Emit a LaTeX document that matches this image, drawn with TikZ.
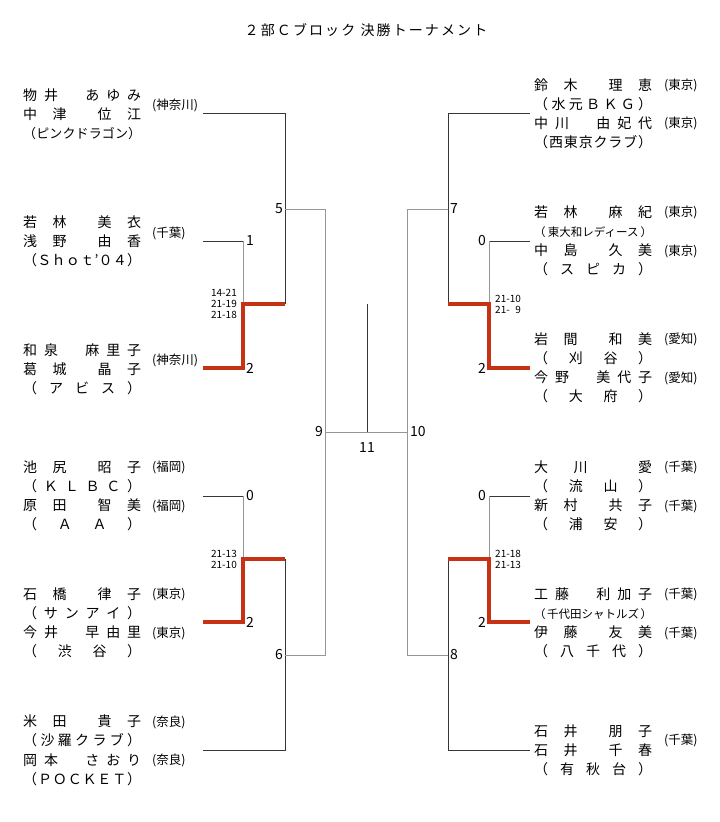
\documentclass[tikz,border=0pt]{standalone}
\usepackage{fontspec}
\setmainfont{Noto Sans CJK JP}
\newfontfamily\titlefont[LetterSpace=15]{Noto Sans CJK JP}
\usetikzlibrary{positioning}
\definecolor{WinRed}{RGB}{200,50,20}
\definecolor{LineDark}{RGB}{55,55,55}
\definecolor{LineGray}{RGB}{150,150,150}
% name lines: 2+2, 2+3 and 1+1+1 characters, club line
\newcommand{\nma}[4]{\makebox[118pt][s]{#1\hfil #2\hfil\hfil #3\hfil #4}}
\newcommand{\nmb}[5]{\makebox[118pt][s]{#1\hfil #2\hfil\hfil\hfil\hfil #3\hfil #4\hfil #5}}
\newcommand{\nmc}[3]{\makebox[118pt][s]{#1\hfil #2\hfil\hfil #3}}
\newcommand{\club}[1]{\makebox[118pt][s]{#1}}
\tikzset{
  entry/.style={anchor=base west,align=left,inner sep=0pt,font=\fontsize{14}{19.3}\selectfont},
  pref/.style={anchor=west,inner sep=0pt,font=\fontsize{12.5}{13}\selectfont},
  num/.style={inner sep=0pt,font=\fontsize{14}{14}\selectfont},
  score/.style={inner sep=0pt,font=\fontsize{10}{11}\selectfont},
  darkline/.style={draw=LineDark,line width=0.8pt},
  grayline/.style={draw=LineGray,line width=0.8pt},
  winline/.style={draw=WinRed,line width=3.2pt},
}
\begin{document}
\begin{tikzpicture}[x=1pt,y=-1pt]
\useasboundingbox (0,0) rectangle (720,822);
\node[inner sep=0pt,font=\titlefont\fontsize{14}{14}\selectfont] (title) at (366,30) {２部Ｃブロック 決勝トーナメント};

% left entries (placed at the baseline of their last line)
\node[entry] (L1) at (23,138.6) {\nmb{物}{井}{あ}{ゆ}{み}\\\nma{中}{津}{位}{江}\\
  \club{\fontsize{13}{13}\selectfont（\hfil ピ\hfil ン\hfil ク\hfil ド\hfil ラ\hfil ゴ\hfil ン\hfil ）}};
\node[entry] (L2) at (23,265.6) {\nma{若}{林}{美}{衣}\\\nma{浅}{野}{由}{香}\\
  \club{（\hfil Ｓ\hfil ｈ\hfil ｏ\hfil ｔ\hfil ’\hfil ０\hfil ４\hfil ）}};
\node[entry] (L3) at (23,393.6) {\nmb{和}{泉}{麻}{里}{子}\\\nma{葛}{城}{晶}{子}\\
  \club{（\hfil ア\hfil ビ\hfil ス\hfil ）}};
\node[entry] (L4) at (23,529.9) {\nma{池}{尻}{昭}{子}\\\club{（\hfil Ｋ\hfil Ｌ\hfil Ｂ\hfil Ｃ\hfil ）}\\
  \nma{原}{田}{智}{美}\\\club{（\hfil Ａ\hfil Ａ\hfil ）}};
\node[entry] (L5) at (23,656.9) {\nma{石}{橋}{律}{子}\\\club{（\hfil サ\hfil ン\hfil ア\hfil イ\hfil ）}\\
  \nmb{今}{井}{早}{由}{里}\\\club{（\hfil 渋\hfil 谷\hfil ）}};
\node[entry] (L6) at (23,784.4) {\nma{米}{田}{貴}{子}\\\club{（\hfil 沙\hfil 羅\hfil ク\hfil ラ\hfil ブ\hfil ）}\\
  \nmb{岡}{本}{さ}{お}{り}\\\club{（\hfil Ｐ\hfil Ｏ\hfil Ｃ\hfil Ｋ\hfil Ｅ\hfil Ｔ\hfil ）}};

% right entries
\node[entry] (R1) at (534,147.9) {\nma{鈴}{木}{理}{恵}\\\club{（\hfil 水\hfil 元\hfil Ｂ\hfil Ｋ\hfil Ｇ\hfil ）}\\
  \nmb{中}{川}{由}{妃}{代}\\\club{（\hfil 西\hfil 東\hfil 京\hfil ク\hfil ラ\hfil ブ\hfil ）}};
\node[entry] (R2) at (534,274.9) {\nma{若}{林}{麻}{紀}\\\club{\fontsize{11.5}{12}\selectfont（\hfil 東大和レディース\hfil ）}\\
  \nma{中}{島}{久}{美}\\\club{（\hfil ス\hfil ピ\hfil カ\hfil ）}};
\node[entry] (R3) at (534,401.9) {\nma{岩}{間}{和}{美}\\\club{（\hfil 刈\hfil 谷\hfil ）}\\
  \nmb{今}{野}{美}{代}{子}\\\club{（\hfil 大\hfil 府\hfil ）}};
\node[entry] (R4) at (534,529.9) {\nmc{大}{川}{愛}\\\club{（\hfil 流\hfil 山\hfil ）}\\
  \nma{新}{村}{共}{子}\\\club{（\hfil 浦\hfil 安\hfil ）}};
\node[entry] (R5) at (534,656.9) {\nmb{工}{藤}{利}{加}{子}\\\club{\fontsize{11.5}{12}\selectfont（\hfil 千代田シャトルズ\hfil ）}\\
  \nma{伊}{藤}{友}{美}\\\club{（\hfil 八\hfil 千\hfil 代\hfil ）}};
\node[entry] (R6) at (534,774.6) {\nma{石}{井}{朋}{子}\\\nma{石}{井}{千}{春}\\
  \club{（\hfil 有\hfil 秋\hfil 台\hfil ）}};

% prefectures
\foreach \y/\t in {105/{(神奈川)},233/{(千葉)},360/{(神奈川)},467/{(福岡)},506/{(福岡)},
    594/{(東京)},633/{(東京)},722/{(奈良)},760/{(奈良)}}
  \node[pref] (lp\y) at (152,\y) {\t};
\foreach \y/\t in {85/{(東京)},123/{(東京)},212/{(東京)},251/{(東京)},339/{(愛知)},378/{(愛知)},
    467/{(千葉)},506/{(千葉)},594/{(千葉)},633/{(千葉)},740/{(千葉)}}
  \node[pref] (rp\y) at (664,\y) {\t};

% bracket points
\coordinate (p1) at (203,113); \coordinate (p2) at (203,241); \coordinate (p3) at (203,368);
\coordinate (p4) at (203,496); \coordinate (p5) at (203,622); \coordinate (p6) at (203,750);
\coordinate (q1) at (530,113); \coordinate (q2) at (530,241); \coordinate (q3) at (530,368);
\coordinate (q4) at (530,496); \coordinate (q5) at (530,622); \coordinate (q6) at (530,750);
\coordinate (a1) at (243,241); \coordinate (b1) at (243,304); \coordinate (c1) at (285,304); \coordinate (d1) at (243,368);
\coordinate (a2) at (243,496); \coordinate (b2) at (243,559); \coordinate (c2) at (285,559); \coordinate (d2) at (243,622);
\coordinate (a3) at (489,241); \coordinate (b3) at (489,304); \coordinate (c3) at (448,304); \coordinate (d3) at (489,368);
\coordinate (a4) at (489,496); \coordinate (b4) at (489,559); \coordinate (c4) at (448,559); \coordinate (d4) at (489,622);
\coordinate (m5) at (285,209); \coordinate (n5) at (325,209);
\coordinate (m6) at (285,655); \coordinate (n6) at (325,655);
\coordinate (m7) at (448,209); \coordinate (n7) at (407,209);
\coordinate (m8) at (448,655); \coordinate (n8) at (407,655);
\coordinate (m9) at (325,432); \coordinate (m10) at (407,432);
\coordinate (m11) at (367,432); \coordinate (t11) at (367,304);

% lines
\draw[darkline] (p1) -| (c1);
\draw[darkline] (p2) -- (a1);
\draw[grayline] (a1) -- (b1);
\draw[darkline] (p4) -- (a2);
\draw[grayline] (a2) -- (b2);
\draw[darkline] (p6) -| (c2);
\draw[grayline] (m5) -- (n5) -- (n6) -- (m6);
\draw[grayline] (m9) -- (m10);
\draw[darkline] (t11) -- (m11);
\draw[grayline] (m7) -- (n7) -- (n8) -- (m8);
\draw[darkline] (q1) -| (c3);
\draw[darkline] (q2) -- (a3);
\draw[grayline] (a3) -- (b3);
\draw[darkline] (q4) -- (a4);
\draw[grayline] (a4) -- (b4);
\draw[darkline] (q6) -| (c4);
\draw[winline] (p3) -| (b1) -- (c1);
\draw[winline] (p5) -| (b2) -- (c2);
\draw[winline] (q3) -| (b3) -- (c3);
\draw[winline] (q5) -| (b4) -- (c4);

% match numbers and points
\node[num,right=3pt of a1] (g1) {1};
\node[num,right=3pt of d1] (w1) {2};
\node[num,right=3pt of a2] (g2) {0};
\node[num,right=3pt of d2] (w2) {2};
\node[num,left=3pt of a3] (g3) {0};
\node[num,left=3pt of d3] (w3) {2};
\node[num,left=3pt of a4] (g4) {0};
\node[num,left=3pt of d4] (w4) {2};
\node[num,left=2pt of m5] (g5) {5};
\node[num,left=2pt of m6] (g6) {6};
\node[num,right=2pt of m7] (g7) {7};
\node[num,right=2pt of m8] (g8) {8};
\node[num,left=2pt of m9] (g9) {9};
\node[num,right=3pt of m10] (g10) {10};
\node[num,below=10pt of m11] (g11) {11};

% scores
\node[score,align=right,left=6pt of b1] (s1) {14-21\\21-19\\21-18};
\node[score,align=right,left=6pt of b2] (s2) {21-13\\21-10};
\node[score,align=left,right=6pt of b3] (s3) {21-10\\21-\phantom{1}9};
\node[score,align=left,right=6pt of b4] (s4) {21-18\\21-13};
\end{tikzpicture}
\end{document}
